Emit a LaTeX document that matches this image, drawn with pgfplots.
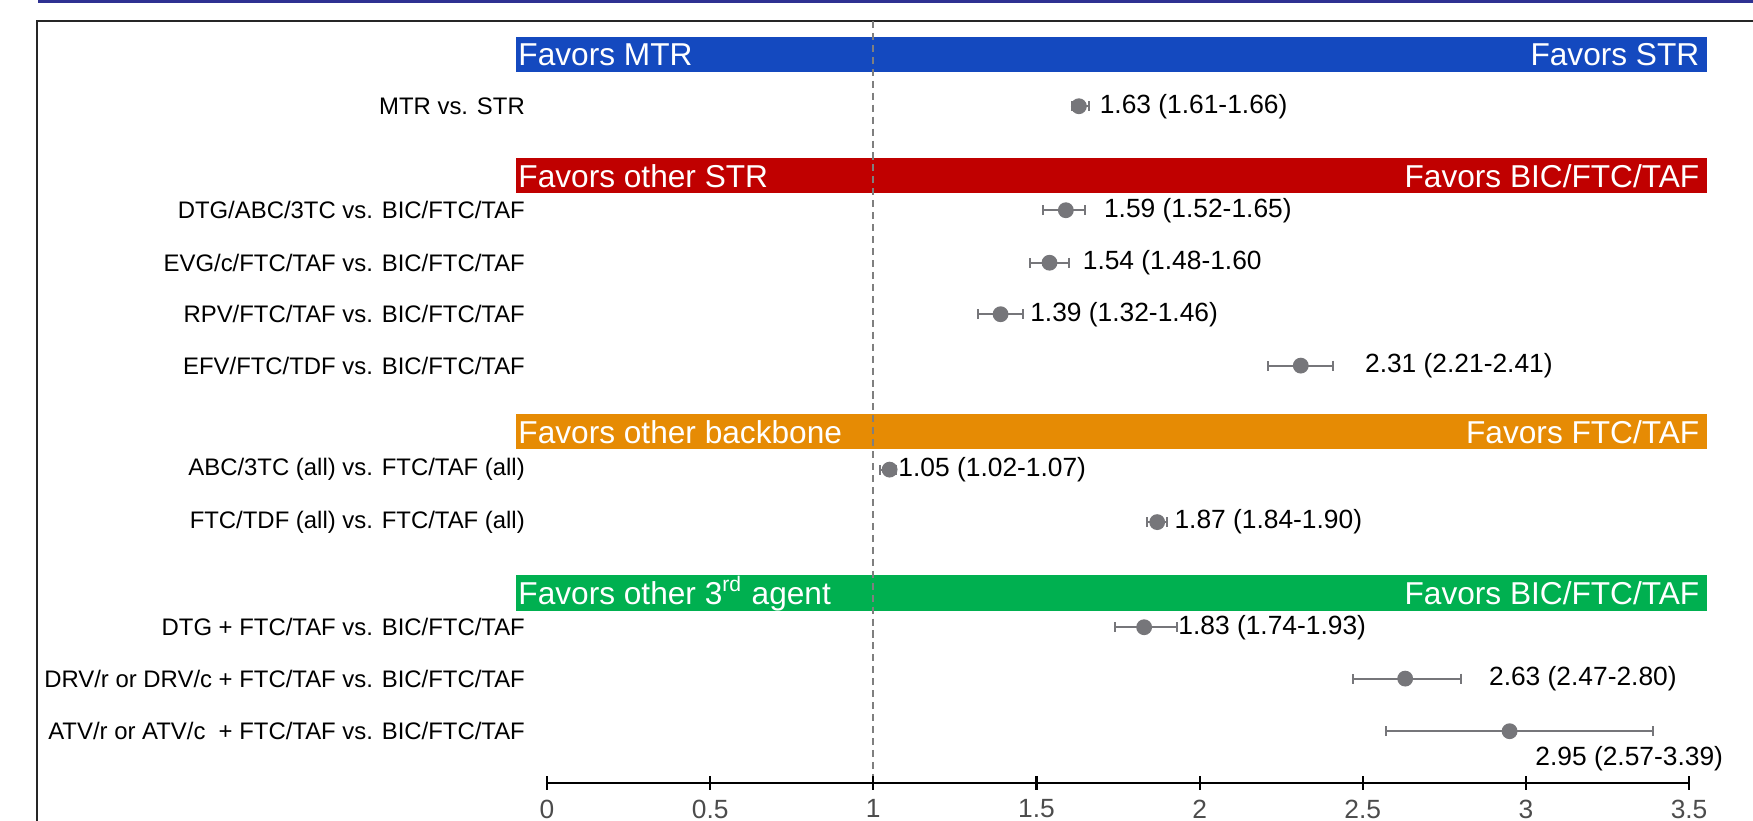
\documentclass[border=0pt]{standalone}
\usepackage{pgfplots}
\pgfplotsset{compat=1.18}
\usepackage{pgfplotstable}
\usepackage{fontspec}
\setmainfont{Liberation Sans}
\definecolor{bandblue}{RGB}{20,73,191}
\definecolor{bandred}{RGB}{192,0,0}
\definecolor{bandorange}{RGB}{230,139,4}
\definecolor{bandgreen}{RGB}{0,176,80}
\definecolor{navy}{RGB}{46,49,146}
\definecolor{ptgray}{RGB}{118,118,122}
\definecolor{dashgray}{RGB}{127,127,127}

% x = estimate, y = row position (px from top), em/ep = CI distances
\pgfplotstableread{
x     y      em    ep
1.63  106.2  0.02  0.03
1.59  210.2  0.07  0.06
1.54  262.7  0.06  0.06
1.39  314.2  0.07  0.07
2.31  365.6  0.10  0.10
1.05  469.6  0.03  0.02
1.87  522.1  0.03  0.03
1.83  627.2  0.09  0.10
2.63  678.6  0.16  0.17
2.95  731.2  0.38  0.44
}\forest

\newcommand{\lblfont}{\fontsize{6.8}{8}\selectfont}
\newcommand{\valfont}{\fontsize{7.5}{9}\selectfont}
\newcommand{\bandfont}{\fontsize{9}{10}\selectfont}

\begin{document}
\begin{tikzpicture}
\begin{axis}[
  scale only axis,
  width=17.53cm, height=8.2cm,
  xmin=-1.6764, xmax=3.6960,
  ymin=0, ymax=820,
  y dir=reverse,
  axis lines=none,
  clip=false,
]
% navy strip and frame
\fill[navy] (-1.560,0) rectangle (3.8,2.8);
\draw[line width=0.6pt, black!85] (-1.563,840) -- (-1.563,21) -- (3.8,21);

% bands
\fill[bandblue]   (-0.095,37)  rectangle (3.555,71.5);
\fill[bandred]    (-0.095,158) rectangle (3.555,192.7);
\fill[bandorange] (-0.095,414) rectangle (3.555,449);
\fill[bandgreen]  (-0.095,575) rectangle (3.555,610.7);

\node[anchor=west, text=white, font=\bandfont, inner sep=0.5pt] at (-0.095,55) {Favors MTR};
\node[anchor=east, text=white, font=\bandfont, inner sep=2pt] at (3.555,55) {Favors STR};
\node[anchor=west, text=white, font=\bandfont, inner sep=0.5pt] at (-0.095,176) {Favors other STR};
\node[anchor=east, text=white, font=\bandfont, inner sep=2pt] at (3.555,176) {Favors BIC/FTC/TAF};
\node[anchor=west, text=white, font=\bandfont, inner sep=0.5pt] at (-0.095,432) {Favors other backbone};
\node[anchor=east, text=white, font=\bandfont, inner sep=2pt] at (3.555,432) {Favors FTC/TAF};
\node[anchor=west, text=white, font=\bandfont, inner sep=0.5pt] at (-0.095,593.5) {Favors other 3\textsuperscript{rd} agent};
\node[anchor=east, text=white, font=\bandfont, inner sep=2pt] at (3.555,593.5) {Favors BIC/FTC/TAF};

% reference line
\draw[dashgray, line width=0.6pt, dash pattern=on 2pt off 1.4pt] (1,21) -- (1,783);

% x axis
\draw[line width=0.8pt] (0,783) -- (3.5,783);
\pgfplotsinvokeforeach{0,0.5,1,1.5,2,2.5,3,3.5}{
  \draw[line width=0.6pt] (#1,776) -- (#1,790);
  \node[anchor=north, inner sep=0pt, font=\valfont, text=black!70] at (#1,799) {#1};
}

% row labels
\node[anchor=east, inner sep=0pt, font=\lblfont] at (-0.066,106.2) {MTR vs. STR};
\node[anchor=east, inner sep=0pt, font=\lblfont] at (-0.066,210.2) {DTG/ABC/3TC vs. BIC/FTC/TAF};
\node[anchor=east, inner sep=0pt, font=\lblfont] at (-0.066,262.7) {EVG/c/FTC/TAF vs. BIC/FTC/TAF};
\node[anchor=east, inner sep=0pt, font=\lblfont] at (-0.066,314.2) {RPV/FTC/TAF vs. BIC/FTC/TAF};
\node[anchor=east, inner sep=0pt, font=\lblfont] at (-0.066,365.6) {EFV/FTC/TDF vs. BIC/FTC/TAF};
\node[anchor=east, inner sep=0pt, font=\lblfont] at (-0.066,469.6) {ABC/3TC (all) vs. FTC/TAF (all)};
\node[anchor=east, inner sep=0pt, font=\lblfont] at (-0.066,522.1) {FTC/TDF (all) vs. FTC/TAF (all)};
\node[anchor=east, inner sep=0pt, font=\lblfont] at (-0.066,627.2) {DTG + FTC/TAF vs. BIC/FTC/TAF};
\node[anchor=east, inner sep=0pt, font=\lblfont] at (-0.066,678.6) {DRV/r or DRV/c + FTC/TAF vs. BIC/FTC/TAF};
\node[anchor=east, inner sep=0pt, font=\lblfont] at (-0.066,731.2) {ATV/r or ATV/c\ \ + FTC/TAF vs. BIC/FTC/TAF};

% value labels
\node[anchor=west, inner sep=0pt, font=\valfont] at (1.692,106.2) {1.63 (1.61-1.66)};
\node[anchor=west, inner sep=0pt, font=\valfont] at (1.705,210.2) {1.59 (1.52-1.65)};
\node[anchor=west, inner sep=0pt, font=\valfont] at (1.640,262.7) {1.54 (1.48-1.60};
\node[anchor=west, inner sep=0pt, font=\valfont] at (1.479,314.2) {1.39 (1.32-1.46)};
\node[anchor=west, inner sep=0pt, font=\valfont] at (2.505,365.6) {2.31 (2.21-2.41)};
\node[anchor=west, inner sep=0pt, font=\valfont] at (1.075,469.6) {1.05 (1.02-1.07)};
\node[anchor=west, inner sep=0pt, font=\valfont] at (1.921,522.1) {1.87 (1.84-1.90)};
\node[anchor=west, inner sep=0pt, font=\valfont] at (1.933,627.2) {1.83 (1.74-1.93)};
\node[anchor=west, inner sep=0pt, font=\valfont] at (2.885,678.6) {2.63 (2.47-2.80)};
\node[anchor=west, inner sep=0pt, font=\valfont] at (3.027,759.1) {2.95 (2.57-3.39)};

% estimates with CI
\addplot[only marks, mark=*, mark size=2.05pt, color=ptgray,
  error bars/.cd, x dir=both, x explicit,
  error mark=|,
  error bar style={line width=0.6pt, color=ptgray},
  error mark options={line width=0.6pt, color=ptgray, mark size=1.4pt}]
  table[x=x, y=y, x error minus=em, x error plus=ep] {\forest};
\end{axis}
\pgfresetboundingbox
\useasboundingbox (0,0) rectangle (17.53cm,8.2cm);
\end{tikzpicture}
\end{document}
